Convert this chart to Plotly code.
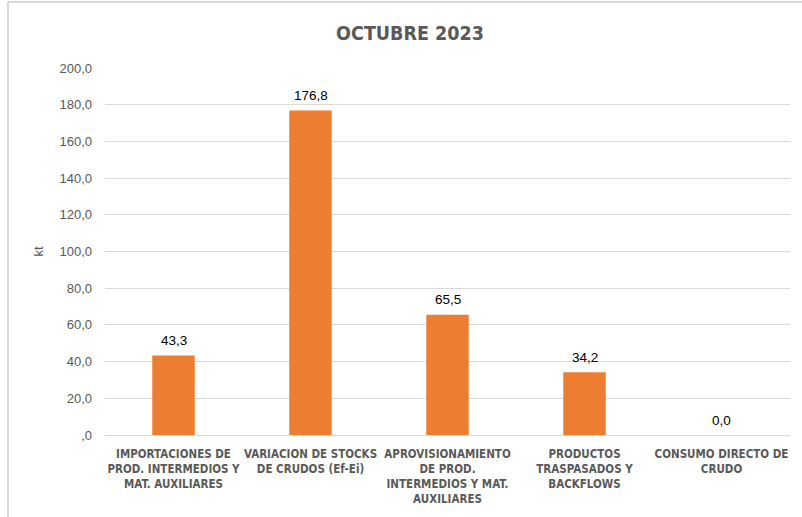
import plotly.graph_objects as go

categories = [
    "IMPORTACIONES DE<br>PROD. INTERMEDIOS Y<br>MAT. AUXILIARES",
    "VARIACION DE STOCKS<br>DE CRUDOS (Ef-Ei)",
    "APROVISIONAMIENTO<br>DE PROD.<br>INTERMEDIOS Y MAT.<br>AUXILIARES",
    "PRODUCTOS<br>TRASPASADOS Y<br>BACKFLOWS",
    "CONSUMO DIRECTO DE<br>CRUDO",
]
values = [43.3, 176.8, 65.5, 34.2, 0.0]
value_labels = ["43,3", "176,8", "65,5", "34,2", "0,0"]
tick_values = [0, 20, 40, 60, 80, 100, 120, 140, 160, 180, 200]
tick_labels = [",0", "20,0", "40,0", "60,0", "80,0", "100,0", "120,0", "140,0", "160,0", "180,0", "200,0"]

COND = "DejaVu Sans Condensed, Liberation Sans Narrow, sans-serif"

fig = go.Figure(go.Bar(
    x=categories, y=values,
    marker=dict(color="#ED7D31", line=dict(width=0)),
    width=0.31, cliponaxis=False, hoverinfo="skip",
))

for cat, val, lab in zip(categories, values, value_labels):
    fig.add_annotation(x=cat, y=val, text=lab, showarrow=False, yanchor="middle", yshift=15,
                       font=dict(family="Liberation Sans, Arial, sans-serif", size=13.5, color="#000000"))

L, R, T, B = 105, 12, 68, 82
W, H = 802, 517
pw, ph = W - L - R, H - T - B

fig.update_layout(
    width=W, height=H,
    margin=dict(l=L, r=R, t=T, b=B, autoexpand=False),
    paper_bgcolor="white", plot_bgcolor="white",
    title=dict(text="<b>OCTUBRE 2023</b>", x=410 / W, xanchor="center", y=1 - 33 / H, yanchor="middle",
               font=dict(family=COND, size=19.5, color="#595959")),
    font=dict(family=COND, color="#595959"),
    showlegend=False,
    bargap=0.69,
)
fig.update_yaxes(
    range=[0, 200], tickvals=tick_values, ticktext=tick_labels,
    showgrid=True, gridcolor="#D9D9D9", gridwidth=1, zeroline=False,
    showline=False, ticks="", ticklabelstandoff=12,
    tickfont=dict(family="Liberation Sans, Arial, sans-serif", size=13, color="#595959"),
    title=dict(text="kt", font=dict(family="Liberation Sans, Arial, sans-serif", size=13, color="#595959"), standoff=12),
)
fig.update_xaxes(
    showline=True, linecolor="#D9D9D9", linewidth=1, ticks="", showgrid=False,
    tickangle=0, ticklabelstandoff=8,
    tickfont=dict(family=COND, size=11.5, color="#595959", weight="bold"),
)
# chart border
top_y = (H - B - 2) / ph
fig.add_shape(type="line", xref="paper", yref="paper",
              x0=(8 - L) / pw, x1=(W + 5 - L) / pw, y0=top_y, y1=top_y,
              line=dict(color="#D9D9D9", width=2))
fig.add_shape(type="line", xref="paper", yref="paper",
              x0=(8 - L) / pw, x1=(8 - L) / pw, y0=top_y, y1=-(B + 5) / ph,
              line=dict(color="#D9D9D9", width=2))

fig.write_html("out.html", config={"displayModeBar": False},
               post_script="document.body.style.margin='0';document.body.style.overflow='hidden';")
